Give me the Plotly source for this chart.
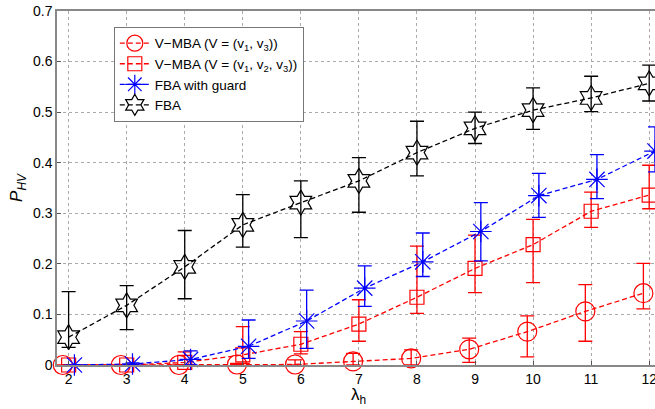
import plotly.graph_objects as go

lam = [2, 3, 4, 5, 6, 7, 8, 9, 10, 11, 12]

# V-MBA (V = (v1, v3)) - red circles
c_y = [0.0, 0.0, 0.0, 0.001, 0.001, 0.007, 0.013, 0.031, 0.066, 0.106, 0.142]
c_hi = [0.0, 0.0, 0.0, 0.003, 0.010, 0.023, 0.030, 0.053, 0.097, 0.159, 0.201]
c_lo = [0.0, 0.0, 0.0, 0.0, 0.0, 0.0, 0.0, 0.005, 0.016, 0.047, 0.111]

# V-MBA (V = (v1, v2, v3)) - red squares
s_y = [0.0, 0.0, 0.005, 0.020, 0.041, 0.081, 0.134, 0.191, 0.238, 0.304, 0.336]
s_hi = [0.0, 0.0, 0.026, 0.076, 0.066, 0.129, 0.235, 0.257, 0.288, 0.342, 0.395]
s_lo = [0.0, 0.0, 0.0, 0.003, 0.022, 0.047, 0.102, 0.143, 0.163, 0.272, 0.309]

# FBA with guard - blue asterisks
g_y = [0.0, 0.002, 0.011, 0.037, 0.087, 0.152, 0.204, 0.264, 0.335, 0.367, 0.423]
g_hi = [0.0, 0.004, 0.028, 0.089, 0.148, 0.196, 0.261, 0.321, 0.379, 0.416, 0.471]
g_lo = [0.0, 0.0, 0.0, 0.013, 0.033, 0.116, 0.175, 0.206, 0.292, 0.329, 0.382]

# FBA - black stars
f_y = [0.055, 0.118, 0.194, 0.277, 0.321, 0.364, 0.420, 0.468, 0.504, 0.528, 0.557]
f_hi = [0.145, 0.157, 0.266, 0.337, 0.364, 0.410, 0.482, 0.500, 0.548, 0.571, 0.593]
f_lo = [0.035, 0.070, 0.131, 0.233, 0.252, 0.302, 0.374, 0.438, 0.466, 0.501, 0.522]

names = [
    "V\u2212MBA (V = (v<sub>1</sub>, v<sub>3</sub>))",
    "V\u2212MBA (V = (v<sub>1</sub>, v<sub>2</sub>, v<sub>3</sub>))",
    "FBA with guard",
    "FBA",
]

series = [
    (c_y, c_hi, c_lo, -0.1, "red", "circle-open", 19),
    (s_y, s_hi, s_lo, 0.0, "red", "square-open", 14),
    (g_y, g_hi, g_lo, 0.1, "blue", "asterisk-open", 18),
    (f_y, f_hi, f_lo, 0.0, "black", "hexagram-open", 19),
]

fig = go.Figure()
for name, (y, hi, lo, off, col, sym, sz) in zip(names, series):
    fig.add_trace(go.Scatter(
        x=[v + off for v in lam], y=y, name=name,
        mode="lines+markers",
        line=dict(color=col, width=1.3, dash="5px,3px"),
        marker=dict(symbol=sym, size=sz, color=col, line=dict(color=col, width=1.2)),
        error_y=dict(type="data", symmetric=False,
                     array=[h - v for h, v in zip(hi, y)],
                     arrayminus=[v - l for v, l in zip(y, lo)],
                     color=col, thickness=1.3, width=7),
        cliponaxis=False,
    ))

fig.update_layout(
    width=655, height=409,
    margin=dict(l=57, r=0, t=11, b=44, autoexpand=False),
    paper_bgcolor="white", plot_bgcolor="white",
    font=dict(family="Liberation Sans, Arial, sans-serif", size=14, color="black"),
    showlegend=True,
    legend=dict(x=0.095, y=0.955, xanchor="left", yanchor="top",
                bgcolor="white", bordercolor="#777", borderwidth=1,
                font=dict(size=13.5), tracegroupgap=0, itemwidth=30),
    annotations=[dict(text="\u03bb<sub>h</sub>", x=7, xref="x", y=-0.052, yref="paper",
                      xanchor="center", yanchor="top", showarrow=False,
                      font=dict(size=17))],
)
fig.update_xaxes(
    range=[1.8, 12.1], tickvals=lam, ticktext=[str(v) for v in lam],
    automargin=False, ticklabeloverflow="allow",
    showgrid=True, gridcolor="#aaa", griddash="dot", gridwidth=1,
    showline=True, linecolor="#888", linewidth=1.5, mirror=True,
    ticks="inside", ticklen=4, tickcolor="#555", zeroline=False,
)
fig.update_yaxes(
    range=[0, 0.7], tickvals=[0, 0.1, 0.2, 0.3, 0.4, 0.5, 0.6, 0.7],
    ticktext=["0", "0.1", "0.2", "0.3", "0.4", "0.5", "0.6", "0.7"],
    automargin=False, ticklabeloverflow="allow",
    showgrid=True, gridcolor="#aaa", griddash="dot", gridwidth=1,
    showline=True, linecolor="#888", linewidth=1.5, mirror=True,
    ticks="inside", ticklen=4, tickcolor="#555", zeroline=False,
    title=dict(text="<i>P<sub>HV</sub></i>", standoff=6, font=dict(size=17)),
)

# remove the default page margin so the figure sits at the window's corner
fig.write_html("out.html", config={"displayModeBar": False},
               post_script="document.body.style.margin='0';")
